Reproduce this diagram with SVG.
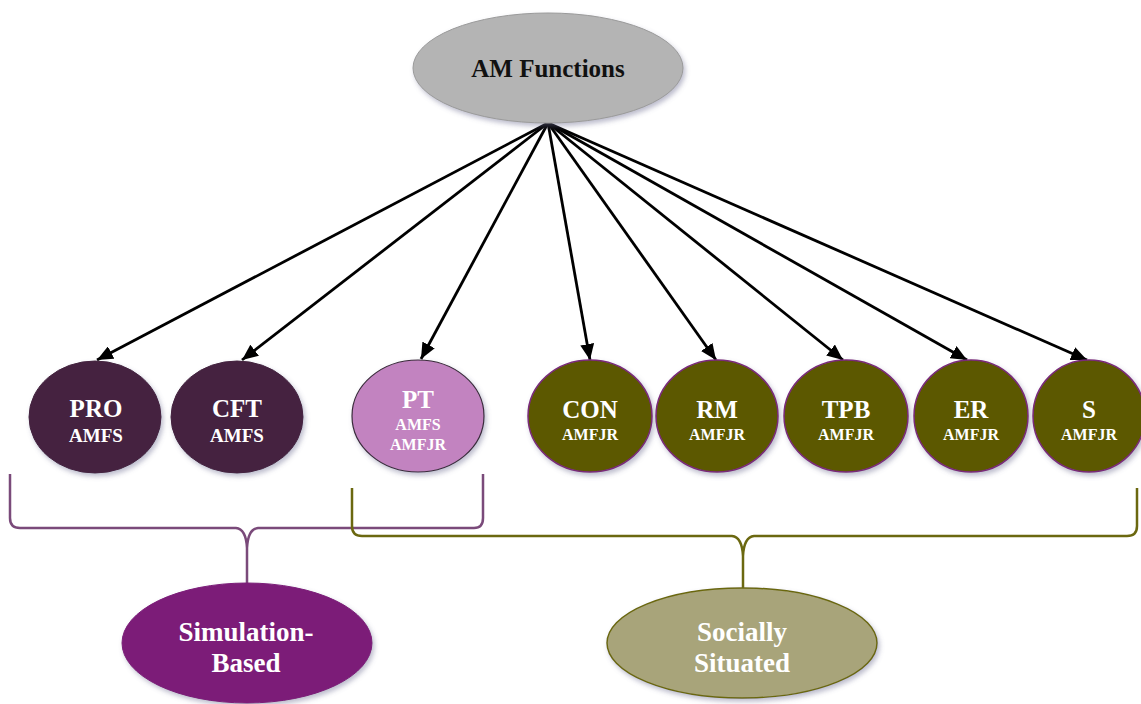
<svg xmlns="http://www.w3.org/2000/svg" width="1141" height="704" viewBox="0 0 1141 704">
<defs>
<filter id="sh" x="-20%" y="-20%" width="140%" height="150%">
<feDropShadow dx="2" dy="3" stdDeviation="2.5" flood-color="#6a6a90" flood-opacity="0.45"/>
</filter>
<marker id="ah" markerWidth="16" markerHeight="14" refX="16" refY="7" orient="auto" markerUnits="userSpaceOnUse">
<path d="M0,0 L16,7 L0,14 Z" fill="#000"/>
</marker>
</defs>
<style>
text{font-family:"Liberation Serif","Times New Roman",serif;font-weight:bold;text-anchor:middle;fill:#fff}
.big{font-size:25px}
.mid{font-size:19px}
.sm{font-size:16px}
.lab{font-size:27px}
.olive{fill:#5c5800;stroke:#7a2a7a;stroke-width:1.5;filter:url(#sh)}
.dark{fill:#44223f;stroke:#44223f;stroke-width:1;filter:url(#sh)}
.conn line{stroke:#000;stroke-width:2.8;marker-end:url(#ah)}
.brace{fill:none;stroke-width:2.5;stroke-linejoin:round}
</style>

<g id="connectors" class="conn">
<line x1="548" y1="123" x2="97" y2="360"/>
<line x1="548" y1="123" x2="242" y2="360"/>
<line x1="548" y1="123" x2="421" y2="359"/>
<line x1="548" y1="123" x2="590" y2="360"/>
<line x1="548" y1="123" x2="716" y2="360"/>
<line x1="548" y1="123" x2="843" y2="360"/>
<line x1="548" y1="123" x2="967" y2="360"/>
<line x1="548" y1="123" x2="1087" y2="360"/>
</g>

<g id="am-functions">
<ellipse cx="548" cy="68" rx="135" ry="55" fill="#b4b4b4" stroke="#9a9a9a" stroke-width="1" filter="url(#sh)"/>
<text x="548" y="77" class="big" style="fill:#111">AM Functions</text>
</g>

<g id="pro">
<ellipse cx="95" cy="417" rx="66" ry="56" class="dark"/>
<text x="96" y="417" class="big">PRO</text>
<text x="96" y="442" class="mid">AMFS</text>
</g>
<g id="cft">
<ellipse cx="237" cy="417" rx="66" ry="56" class="dark"/>
<text x="237" y="417" class="big">CFT</text>
<text x="237" y="442" class="mid">AMFS</text>
</g>
<g id="pt">
<ellipse cx="418" cy="416" rx="66" ry="56" fill="#c283c0" stroke="#3a2a3a" stroke-width="1.2" filter="url(#sh)"/>
<text x="418" y="408" class="big">PT</text>
<text x="418" y="430" class="sm">AMFS</text>
<text x="418" y="450" class="sm">AMFJR</text>
</g>
<g id="con">
<ellipse cx="590" cy="416" rx="62" ry="56" class="olive"/>
<text x="590" y="418" class="big">CON</text>
<text x="590" y="440" class="sm">AMFJR</text>
</g>
<g id="rm">
<ellipse cx="717" cy="416" rx="61" ry="56" class="olive"/>
<text x="717" y="418" class="big">RM</text>
<text x="717" y="440" class="sm">AMFJR</text>
</g>
<g id="tpb">
<ellipse cx="846" cy="416" rx="62" ry="56" class="olive"/>
<text x="846" y="418" class="big">TPB</text>
<text x="846" y="440" class="sm">AMFJR</text>
</g>
<g id="er">
<ellipse cx="971" cy="416" rx="57" ry="56" class="olive"/>
<text x="971" y="418" class="big">ER</text>
<text x="971" y="440" class="sm">AMFJR</text>
</g>
<g id="s">
<ellipse cx="1089" cy="416" rx="56" ry="56" class="olive"/>
<text x="1089" y="418" class="big">S</text>
<text x="1089" y="440" class="sm">AMFJR</text>
</g>

<g id="brace-simulation">
<path class="brace" stroke="#7a4a7a" d="M10,474 V518 Q10,528 20,528 H236 Q246,529 247,548 Q248,529 258,528 H474 Q483,528 483,518 V474 M247,548 V584"/>
</g>
<g id="brace-social">
<path class="brace" stroke="#6b6810" d="M352,488 V526 Q352,536 362,536 H732 Q742,537 743,556 Q744,537 754,536 H1127 Q1137,536 1137,526 V488 M743,556 V588"/>
</g>

<g id="simulation-based">
<ellipse cx="247" cy="643" rx="125" ry="60" fill="#7b1a78" stroke="#7b1a78" stroke-width="1" filter="url(#sh)"/>
<text x="246" y="641" class="lab">Simulation-</text>
<text x="246" y="672" class="lab">Based</text>
</g>
<g id="socially-situated">
<ellipse cx="742" cy="643" rx="135" ry="55" fill="#a8a47a" stroke="#6b6810" stroke-width="1.5" filter="url(#sh)"/>
<text x="742" y="641" class="lab">Socially</text>
<text x="742" y="672" class="lab">Situated</text>
</g>
</svg>
